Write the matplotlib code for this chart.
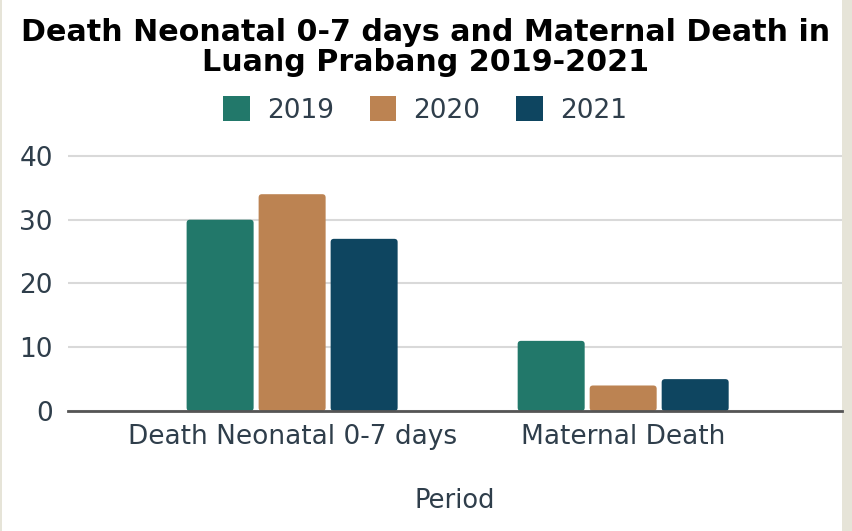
import numpy as np
import matplotlib.pyplot as plt
from matplotlib.patches import FancyBboxPatch, Patch

# dados
categories = ['Death Neonatal 0-7 days', 'Maternal Death']
years = ['2019', '2020', '2021']
values_2019 = [30, 11]
values_2020 = [34, 4]
values_2021 = [27, 5]
colors = ['#22786a', '#bc8352', '#0e4560']

series = [values_2019, values_2020, values_2021]
text_color = '#2f3e4b'

fig = plt.figure(figsize=(8.52, 5.31), dpi=100)
fig.patch.set_facecolor('#e6e4d8')

# fundo branco do gráfico
bg = fig.add_axes([2 / 852, 0, 840 / 852, 1])
bg.set_facecolor('white')
bg.set_xticks([])
bg.set_yticks([])
for s in bg.spines.values():
    s.set_visible(False)

ax = fig.add_axes([68 / 852, 120 / 531, 774 / 852, 271 / 531])
ax.set_facecolor('none')

x = np.arange(len(categories))
width = 0.2024
step = 0.2175
ylim_top = 42.5
xlim = (-0.677, 1.661)

for i, (vals, c) in enumerate(zip(series, colors)):
    bars = ax.bar(x + (i - 1) * step, vals, width, color=c, label=years[i])
    for b in bars:
        b.set_visible(False)
        r = FancyBboxPatch((b.get_x(), b.get_y()), b.get_width(), b.get_height(),
                           boxstyle='round,pad=0,rounding_size=0.01',
                           mutation_aspect=51.9, facecolor=c, edgecolor='none',
                           zorder=2)
        ax.add_patch(r)

ax.set_xlim(*xlim)
ax.set_ylim(0, ylim_top)
ax.set_yticks([0, 10, 20, 30, 40])
ax.yaxis.grid(True, color='#d9d9d9', linewidth=1.5, zorder=0)
ax.set_axisbelow(True)
ax.set_xticks(x)
ax.set_xticklabels(categories)
ax.tick_params(axis='both', length=0, labelsize=19, colors=text_color)
ax.tick_params(axis='x', pad=9.5)
ax.tick_params(axis='y', pad=11)
for s in ['top', 'right', 'left']:
    ax.spines[s].set_visible(False)
ax.spines['bottom'].set_color('#555555')
ax.spines['bottom'].set_linewidth(2)
ax.spines['bottom'].set_zorder(3)

ax.set_xlabel('Period', fontsize=18.5, color=text_color, labelpad=27)

fig.text(0.499, 0.9105, 'Death Neonatal 0-7 days and Maternal Death in\nLuang Prabang 2019-2021',
         ha='center', va='center', fontsize=21.7, fontweight='bold', color='black',
         linespacing=1.07)

handles = [Patch(facecolor=c, edgecolor='none') for c in colors]
fig.legend(handles, years, loc='center', bbox_to_anchor=(0.499, 0.793), ncol=3,
           frameon=False, fontsize=19, labelcolor=text_color, handlelength=1.0,
           handleheight=1.05, columnspacing=1.36, handletextpad=0.65)

plt.savefig('out.png', dpi=100, facecolor=fig.get_facecolor())
